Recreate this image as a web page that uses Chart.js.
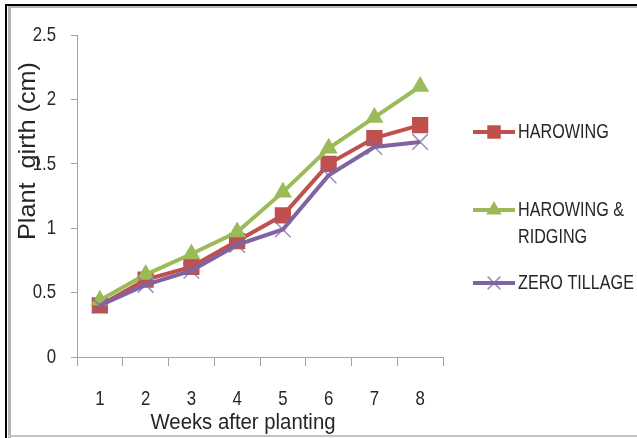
<!DOCTYPE html>
<html>
<head>
<meta charset="utf-8">
<script src="https://cdn.jsdelivr.net/npm/chart.js@4/dist/chart.umd.min.js"></script>
<style>
  html, body { margin: 0; padding: 0; background: #fff; }
  #wrap { position: relative; width: 637px; height: 438px; overflow: hidden; background: #fff; }
  #chart { position: absolute; left: 0; top: 0; }
  .frame { position: absolute; pointer-events: none; }
</style>
</head>
<body>
<div id="wrap">
  <canvas id="chart" width="637" height="438"></canvas>
  <!-- picture frame around the figure -->
  <div class="frame" style="left:5px; top:4px; width:632px; height:2px; background:#000;"></div>
  <div class="frame" style="left:5px; top:4px; width:2px; height:434px; background:#000;"></div>
  <div class="frame" style="left:8px; top:6px; width:629px; height:2px; background:#b8b8b8;"></div>
  <div class="frame" style="left:8px; top:6px; width:3px; height:432px; background:#b4b4b4;"></div>
  <div class="frame" style="left:8px; top:435px; width:629px; height:2px; background:#c4c4c4;"></div>
</div>
<script>
// Weeks after planting
const weeks = ['1', '2', '3', '4', '5', '6', '7', '8'];

// Plant girth (cm) per tillage treatment
const harowing        = [0.40, 0.60, 0.70, 0.90, 1.10, 1.50, 1.70, 1.80];
const harowingRidging = [0.44, 0.64, 0.80, 0.97, 1.28, 1.62, 1.86, 2.10];
const zeroTillage     = [0.40, 0.56, 0.67, 0.87, 0.99, 1.41, 1.63, 1.67];

// Legend text (multi-line where the label wraps)
const legendLabels = [['HAROWING'], ['HAROWING &', 'RIDGING'], ['ZERO TILLAGE']];

const yMin = 0, yMax = 2.5, yStep = 0.5;

const TEXT = '#262626';
const AXIS = '#a3a3a3';
const FAMILY = '"Liberation Sans", Arial, sans-serif';

const RED = '#C0504D', GREEN = '#9BBB59', PURPLE = '#8064A2';

// Text drawn with a horizontal squeeze so it reads as a condensed face.
// If `width` is given the squeeze is chosen so the string spans that width.
function drawText(ctx, text, x, y, o) {
  ctx.save();
  ctx.font = o.size + 'px ' + FAMILY;
  ctx.fillStyle = TEXT;
  ctx.textBaseline = o.baseline || 'alphabetic';
  ctx.textAlign = 'left';
  const w = ctx.measureText(text).width;
  const sx = o.width ? o.width / w : (o.sx || 1);
  const drawn = w * sx;
  let left = x;
  if (o.align === 'center') left = x - drawn / 2;
  else if (o.align === 'right') left = x - drawn;
  ctx.translate(left, y);
  if (o.rotate) ctx.rotate(o.rotate);
  ctx.scale(sx, o.sy || 1);
  ctx.fillText(text, 0, 0);
  ctx.restore();
}

function drawMarker(ctx, style, x, y, r, fill, stroke, lw) {
  ctx.save();
  ctx.beginPath();
  if (style === 'rect') {
    const s = Math.SQRT1_2 * r;
    ctx.rect(x - s, y - s, 2 * s, 2 * s);
    ctx.fillStyle = fill; ctx.fill();
  } else if (style === 'triangle') {
    ctx.moveTo(x, y - r);
    ctx.lineTo(x + r * Math.sin(2 * Math.PI / 3), y + r / 2);
    ctx.lineTo(x - r * Math.sin(2 * Math.PI / 3), y + r / 2);
    ctx.closePath();
    ctx.fillStyle = fill; ctx.fill();
  } else if (style === 'crossRot') {
    const d = Math.SQRT1_2 * r;
    ctx.moveTo(x - d, y - d); ctx.lineTo(x + d, y + d);
    ctx.moveTo(x + d, y - d); ctx.lineTo(x - d, y + d);
    ctx.strokeStyle = stroke; ctx.lineWidth = lw; ctx.stroke();
  }
  ctx.restore();
}

// Tick labels, axis titles and the legend on the right
const annotations = {
  id: 'annotations',
  afterDraw(chart) {
    const ctx = chart.ctx;
    const area = chart.chartArea;
    const xs = chart.scales.x, ys = chart.scales.y;

    // y tick labels
    ys.ticks.forEach((t, i) => {
      drawText(ctx, String(t.value), area.left - 21, ys.getPixelForTick(i),
               { size: 21, sx: 0.8, align: 'right', baseline: 'middle' });
    });

    // x tick labels
    chart.data.labels.forEach((lab, i) => {
      drawText(ctx, lab, xs.getPixelForTick(i), area.bottom + 48,
               { size: 21, sx: 0.8, align: 'center' });
    });

    // x-axis title
    drawText(ctx, 'Weeks after planting', area.left + 166, 429,
             { size: 22, width: 185, align: 'center' });

    // y-axis title (reads bottom to top)
    ctx.save();
    ctx.translate(35, area.top + 116);
    ctx.rotate(-Math.PI / 2);
    drawText(ctx, 'Plant  girth (cm)', 0, 0, { size: 24, width: 178, align: 'center' });
    ctx.restore();

    // legend
    const rows = [132, 210, 283];
    const x0 = area.right + 30, x1 = area.right + 72, tx = area.right + 75;
    chart.data.datasets.forEach((ds, i) => {
      const y = rows[i];
      ctx.save();
      ctx.beginPath();
      ctx.moveTo(x0, y); ctx.lineTo(x1, y);
      ctx.strokeStyle = ds.borderColor; ctx.lineWidth = ds.borderWidth;
      ctx.stroke();
      ctx.restore();
      drawMarker(ctx, ds.pointStyle, (x0 + x1) / 2, y, ds.pointStyle === 'rect' ? 9.5 : 9,
                 ds.pointBackgroundColor, ds.pointBorderColor, ds.pointBorderWidth);
      legendLabels[i].forEach((line, j) => {
        drawText(ctx, line, tx, y + j * 27, { size: 21, sx: 0.77, baseline: 'middle' });
      });
    });
  }
};

new Chart(document.getElementById('chart'), {
  type: 'line',
  data: {
    labels: weeks,
    datasets: [
      {
        label: 'HAROWING',
        data: harowing,
        borderColor: RED, backgroundColor: RED,
        borderWidth: 4,
        pointStyle: 'rect', pointRadius: 11.5,
        pointBackgroundColor: RED, pointBorderColor: RED, pointBorderWidth: 0,
        tension: 0, order: 2
      },
      {
        label: 'HAROWING & RIDGING',
        data: harowingRidging,
        borderColor: GREEN, backgroundColor: GREEN,
        borderWidth: 4,
        pointStyle: 'triangle', pointRadius: 10.5,
        pointBackgroundColor: GREEN, pointBorderColor: GREEN, pointBorderWidth: 0,
        tension: 0, order: 1
      },
      {
        label: 'ZERO TILLAGE',
        data: zeroTillage,
        borderColor: PURPLE, backgroundColor: PURPLE,
        borderWidth: 4,
        pointStyle: 'crossRot', pointRadius: 11,
        pointBackgroundColor: 'rgba(128,100,162,0.75)', pointBorderColor: 'rgba(128,100,162,0.75)',
        pointBorderWidth: 1.5,
        tension: 0, order: 0
      }
    ]
  },
  options: {
    responsive: false,
    animation: false,
    devicePixelRatio: 1,
    layout: { padding: { top: 35, right: 194, bottom: 0, left: 0 } },
    plugins: { legend: { display: false }, tooltip: { enabled: false } },
    scales: {
      x: {
        offset: true,
        grid: { offset: true, drawOnChartArea: false, drawTicks: true, tickLength: 9, color: AXIS, lineWidth: 1 },
        border: { display: true, color: AXIS, width: 1 },
        ticks: { display: false },
        afterFit(scale) { scale.height = 81; }
      },
      y: {
        min: yMin, max: yMax,
        grid: { drawOnChartArea: false, drawTicks: true, tickLength: 6, color: AXIS, lineWidth: 1 },
        border: { display: true, color: AXIS, width: 1 },
        ticks: { display: false, stepSize: yStep },
        afterFit(scale) { scale.width = 77; }
      }
    }
  },
  plugins: [annotations]
});
</script>
</body>
</html>
